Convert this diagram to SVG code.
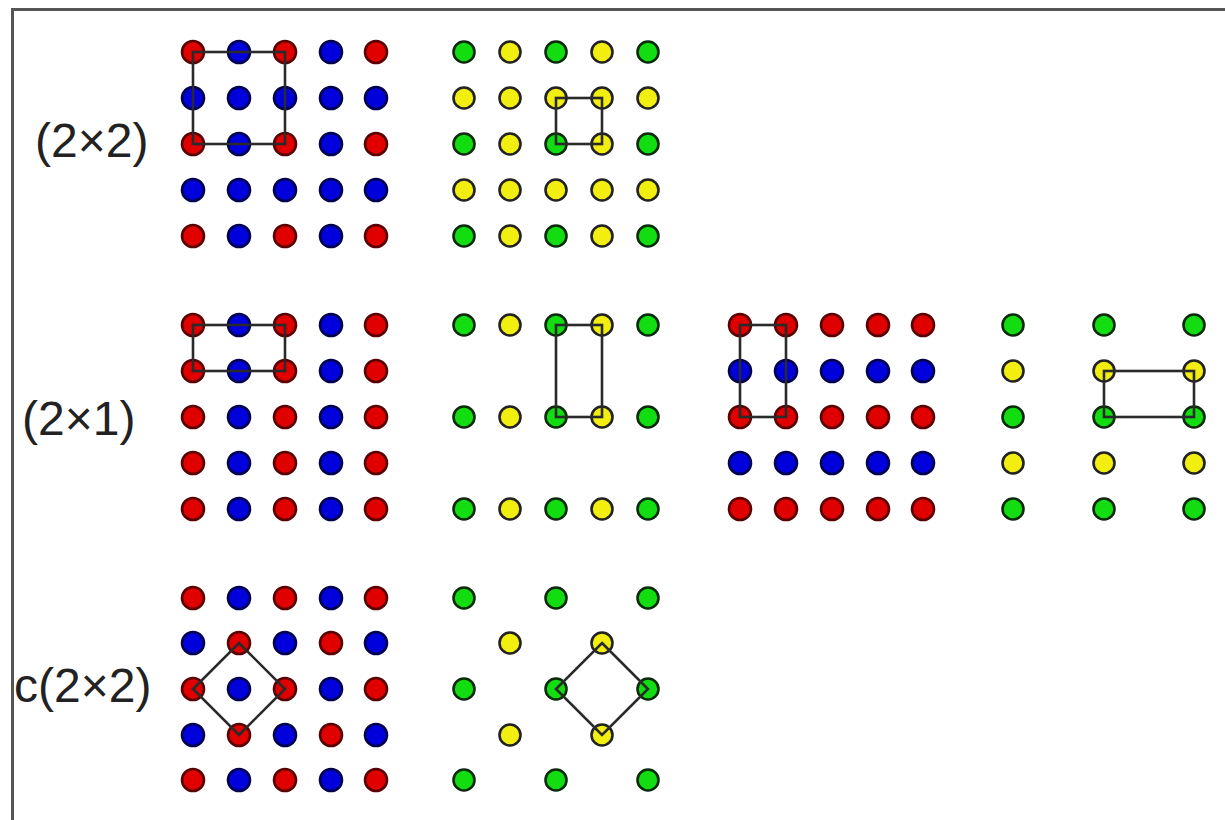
<svg xmlns="http://www.w3.org/2000/svg" xmlns:xlink="http://www.w3.org/1999/xlink" width="1225" height="820" viewBox="0 0 1225 820">
<style>
.lbl{font-family:"Liberation Sans",Arial,sans-serif;font-size:48px;fill:#222}
.cell{fill:none;stroke:#2a2a2a;stroke-width:2.6}
.frame{stroke:#555;stroke-width:3;fill:none}
</style>
<defs>
<circle id="R" r="11" fill="#e00000" stroke="#5a0000" stroke-width="2.6"/>
<circle id="B" r="11" fill="#0000dd" stroke="#000050" stroke-width="2.6"/>
<circle id="G" r="10.5" fill="#11dd11" stroke="#0a2a0a" stroke-width="2.6"/>
<circle id="Y" r="10.5" fill="#f2ee10" stroke="#222" stroke-width="2.6"/>
</defs>
<rect width="1225" height="820" fill="#fff"/>
<path class="frame" d="M12.5,820 V9.5 H1225"/>

<g id="label-2x2"><text class="lbl" x="35" y="157">(2×2)</text></g>
<g id="label-2x1"><text class="lbl" x="22" y="435">(2×1)</text></g>
<g id="label-c2x2"><text class="lbl" x="14" y="702">c(2×2)</text></g>

<g id="grid-2x2-a">
<use href="#R" x="193" y="52"/><use href="#B" x="239" y="52"/><use href="#R" x="285" y="52"/><use href="#B" x="331" y="52"/><use href="#R" x="376" y="52"/>
<use href="#B" x="193" y="98"/><use href="#B" x="239" y="98"/><use href="#B" x="285" y="98"/><use href="#B" x="331" y="98"/><use href="#B" x="376" y="98"/>
<use href="#R" x="193" y="144"/><use href="#B" x="239" y="144"/><use href="#R" x="285" y="144"/><use href="#B" x="331" y="144"/><use href="#R" x="376" y="144"/>
<use href="#B" x="193" y="190"/><use href="#B" x="239" y="190"/><use href="#B" x="285" y="190"/><use href="#B" x="331" y="190"/><use href="#B" x="376" y="190"/>
<use href="#R" x="193" y="236"/><use href="#B" x="239" y="236"/><use href="#R" x="285" y="236"/><use href="#B" x="331" y="236"/><use href="#R" x="376" y="236"/>
</g>
<g id="grid-2x2-b">
<use href="#G" x="464" y="52"/><use href="#Y" x="510" y="52"/><use href="#G" x="556" y="52"/><use href="#Y" x="602" y="52"/><use href="#G" x="648" y="52"/>
<use href="#Y" x="464" y="98"/><use href="#Y" x="510" y="98"/><use href="#Y" x="556" y="98"/><use href="#Y" x="602" y="98"/><use href="#Y" x="648" y="98"/>
<use href="#G" x="464" y="144"/><use href="#Y" x="510" y="144"/><use href="#G" x="556" y="144"/><use href="#Y" x="602" y="144"/><use href="#G" x="648" y="144"/>
<use href="#Y" x="464" y="190"/><use href="#Y" x="510" y="190"/><use href="#Y" x="556" y="190"/><use href="#Y" x="602" y="190"/><use href="#Y" x="648" y="190"/>
<use href="#G" x="464" y="236"/><use href="#Y" x="510" y="236"/><use href="#G" x="556" y="236"/><use href="#Y" x="602" y="236"/><use href="#G" x="648" y="236"/>
</g>

<g id="grid-2x1-a">
<use href="#R" x="193" y="325"/><use href="#B" x="239" y="325"/><use href="#R" x="285" y="325"/><use href="#B" x="331" y="325"/><use href="#R" x="376" y="325"/>
<use href="#R" x="193" y="371"/><use href="#B" x="239" y="371"/><use href="#R" x="285" y="371"/><use href="#B" x="331" y="371"/><use href="#R" x="376" y="371"/>
<use href="#R" x="193" y="417"/><use href="#B" x="239" y="417"/><use href="#R" x="285" y="417"/><use href="#B" x="331" y="417"/><use href="#R" x="376" y="417"/>
<use href="#R" x="193" y="463"/><use href="#B" x="239" y="463"/><use href="#R" x="285" y="463"/><use href="#B" x="331" y="463"/><use href="#R" x="376" y="463"/>
<use href="#R" x="193" y="509"/><use href="#B" x="239" y="509"/><use href="#R" x="285" y="509"/><use href="#B" x="331" y="509"/><use href="#R" x="376" y="509"/>
</g>
<g id="grid-2x1-b">
<use href="#G" x="464" y="325"/><use href="#Y" x="510" y="325"/><use href="#G" x="556" y="325"/><use href="#Y" x="602" y="325"/><use href="#G" x="648" y="325"/>
<use href="#G" x="464" y="417"/><use href="#Y" x="510" y="417"/><use href="#G" x="556" y="417"/><use href="#Y" x="602" y="417"/><use href="#G" x="648" y="417"/>
<use href="#G" x="464" y="509"/><use href="#Y" x="510" y="509"/><use href="#G" x="556" y="509"/><use href="#Y" x="602" y="509"/><use href="#G" x="648" y="509"/>
</g>
<g id="grid-2x1-c">
<use href="#R" x="740" y="325"/><use href="#R" x="786" y="325"/><use href="#R" x="832" y="325"/><use href="#R" x="878" y="325"/><use href="#R" x="923" y="325"/>
<use href="#B" x="740" y="371"/><use href="#B" x="786" y="371"/><use href="#B" x="832" y="371"/><use href="#B" x="878" y="371"/><use href="#B" x="923" y="371"/>
<use href="#R" x="740" y="417"/><use href="#R" x="786" y="417"/><use href="#R" x="832" y="417"/><use href="#R" x="878" y="417"/><use href="#R" x="923" y="417"/>
<use href="#B" x="740" y="463"/><use href="#B" x="786" y="463"/><use href="#B" x="832" y="463"/><use href="#B" x="878" y="463"/><use href="#B" x="923" y="463"/>
<use href="#R" x="740" y="509"/><use href="#R" x="786" y="509"/><use href="#R" x="832" y="509"/><use href="#R" x="878" y="509"/><use href="#R" x="923" y="509"/>
</g>
<g id="grid-2x1-d">
<use href="#G" x="1013" y="325"/><use href="#G" x="1104" y="325"/><use href="#G" x="1194" y="325"/>
<use href="#Y" x="1013" y="371"/><use href="#Y" x="1104" y="371"/><use href="#Y" x="1194" y="371"/>
<use href="#G" x="1013" y="417"/><use href="#G" x="1104" y="417"/><use href="#G" x="1194" y="417"/>
<use href="#Y" x="1013" y="463"/><use href="#Y" x="1104" y="463"/><use href="#Y" x="1194" y="463"/>
<use href="#G" x="1013" y="509"/><use href="#G" x="1104" y="509"/><use href="#G" x="1194" y="509"/>
</g>

<g id="grid-c2x2-a">
<use href="#R" x="193" y="598"/><use href="#B" x="239" y="598"/><use href="#R" x="285" y="598"/><use href="#B" x="331" y="598"/><use href="#R" x="376" y="598"/>
<use href="#B" x="193" y="643"/><use href="#R" x="239" y="643"/><use href="#B" x="285" y="643"/><use href="#R" x="331" y="643"/><use href="#B" x="376" y="643"/>
<use href="#R" x="193" y="689"/><use href="#B" x="239" y="689"/><use href="#R" x="285" y="689"/><use href="#B" x="331" y="689"/><use href="#R" x="376" y="689"/>
<use href="#B" x="193" y="735"/><use href="#R" x="239" y="735"/><use href="#B" x="285" y="735"/><use href="#R" x="331" y="735"/><use href="#B" x="376" y="735"/>
<use href="#R" x="193" y="780"/><use href="#B" x="239" y="780"/><use href="#R" x="285" y="780"/><use href="#B" x="331" y="780"/><use href="#R" x="376" y="780"/>
</g>
<g id="grid-c2x2-b">
<use href="#G" x="464" y="598"/><use href="#G" x="556" y="598"/><use href="#G" x="648" y="598"/>
<use href="#Y" x="510" y="643"/><use href="#Y" x="602" y="643"/>
<use href="#G" x="464" y="689"/><use href="#G" x="556" y="689"/><use href="#G" x="648" y="689"/>
<use href="#Y" x="510" y="735"/><use href="#Y" x="602" y="735"/>
<use href="#G" x="464" y="780"/><use href="#G" x="556" y="780"/><use href="#G" x="648" y="780"/>
</g>

<g id="connectors">
<rect class="cell" x="193" y="52" width="92" height="92"/>
<rect class="cell" x="556" y="98" width="46" height="46"/>
<rect class="cell" x="193" y="325" width="92" height="46"/>
<rect class="cell" x="556" y="325" width="46" height="92"/>
<rect class="cell" x="740" y="325" width="46" height="92"/>
<rect class="cell" x="1104" y="371" width="90" height="46"/>
<polygon class="cell" points="239,643 285,689 239,735 193,689"/>
<polygon class="cell" points="602,643 648,689 602,735 556,689"/>
</g>
</svg>
